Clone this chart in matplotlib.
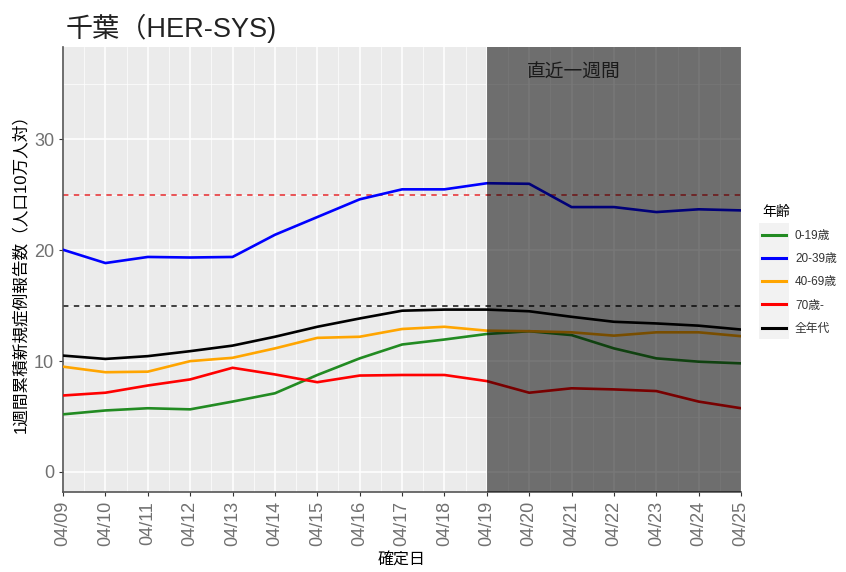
import numpy as np
import matplotlib.pyplot as plt
from matplotlib.ticker import MultipleLocator
from matplotlib.patches import Rectangle

plt.rcParams['font.family'] = ['Liberation Sans', 'Noto Sans CJK JP']

# 日付ラベル
dates = ['04/09', '04/10', '04/11', '04/12', '04/13', '04/14', '04/15', '04/16', '04/17',
         '04/18', '04/19', '04/20', '04/21', '04/22', '04/23', '04/24', '04/25']

age_0_19 = [5.2, 5.55, 5.75, 5.65, 6.35, 7.1, 8.75, 10.25, 11.5, 11.95, 12.45,
            12.7, 12.35, 11.15, 10.25, 9.95, 9.8]
age_20_39 = [20.05, 18.85, 19.4, 19.35, 19.4, 21.4, 23.0, 24.6, 25.5, 25.5, 26.05,
             26.0, 23.9, 23.9, 23.45, 23.7, 23.6]
age_40_69 = [9.5, 9.0, 9.05, 10.0, 10.3, 11.15, 12.1, 12.2, 12.9, 13.1, 12.75,
             12.7, 12.6, 12.3, 12.6, 12.6, 12.25]
age_70 = [6.9, 7.15, 7.8, 8.35, 9.4, 8.8, 8.1, 8.7, 8.75, 8.75, 8.2,
          7.15, 7.55, 7.45, 7.3, 6.35, 5.75]
age_all = [10.5, 10.2, 10.45, 10.9, 11.4, 12.2, 13.1, 13.85, 14.55, 14.65, 14.65,
           14.5, 14.0, 13.55, 13.4, 13.2, 12.85]

series = [
    ('0-19歳', age_0_19, '#228B22'),
    ('20-39歳', age_20_39, '#0000FF'),
    ('40-69歳', age_40_69, '#FFA500'),
    ('70歳-', age_70, '#FF0000'),
    ('全年代', age_all, '#000000'),
]

x = np.arange(len(dates))

fig = plt.figure(figsize=(8.46, 5.72), dpi=100)
ax = fig.add_axes([0.0745, 0.14, 0.8015, 0.777])
ax.set_facecolor('#EBEBEB')

# 目安ライン
ax.axhline(25, color='#E8474A', linestyle=(0, (3, 3)), linewidth=1.3, zorder=2)
ax.axhline(15, color='#333333', linestyle=(0, (3, 3)), linewidth=1.3, zorder=2)

for name, vals, col in series:
    ax.plot(x, vals, color=col, linewidth=1.9, label=name, zorder=3)

# 直近一週間
ax.axvspan(10, 16, color='black', alpha=0.53, linewidth=0, zorder=4)
ax.text(12.05, 36.0, '直近一週間', fontsize=13.5, color='#1A1A1A', ha='center', va='center', zorder=5)

ax.set_xlim(0, 16)
ax.set_ylim(-1.8, 38.3)
ax.set_xticks(x)
ax.set_xticklabels(dates, rotation=90, fontsize=13, color='#707070')
ax.xaxis.set_minor_locator(MultipleLocator(0.5))
ax.yaxis.set_major_locator(MultipleLocator(10))
ax.yaxis.set_minor_locator(MultipleLocator(5))
ax.tick_params(axis='y', labelsize=13, labelcolor='#707070')
ax.tick_params(which='major', color='#333333', length=3)
ax.tick_params(which='minor', length=0)

ax.grid(which='major', color='white', linewidth=1.1, zorder=0)
ax.grid(which='minor', color='white', linewidth=0.5, zorder=0)
ax.set_axisbelow(True)

for s in ['top', 'right']:
    ax.spines[s].set_visible(False)
for s in ['left', 'bottom']:
    ax.spines[s].set_color('#555555')
    ax.spines[s].set_linewidth(1.2)

ax.set_xlabel('確定日', fontsize=11.5, labelpad=4)
ax.set_ylabel('1週間累積新規症例報告数（人口10万人対）', fontsize=12, labelpad=4)
fig.text(0.077, 0.95, '千葉（HER-SYS)', fontsize=19.5, ha='left', va='center', color='#222222')

leg = ax.legend(loc='upper left', bbox_to_anchor=(1.015, 0.67), frameon=False,
                title='年齢', fontsize=8.5, title_fontsize=10, handlelength=2.0,
                labelspacing=0.95, alignment='left', labelcolor='#333333')
for line in leg.get_lines():
    line.set_linewidth(2.2)

# 凡例キーの背景
fig.canvas.draw()
inv = fig.transFigure.inverted()
bbs = [h.get_window_extent() for h in leg.get_lines()]
x0 = min(b.x0 for b in bbs) - 3
x1 = max(b.x1 for b in bbs) + 3
ys = [(b.y0 + b.y1) / 2 for b in bbs]
step = (ys[0] - ys[-1]) / (len(ys) - 1)
y0 = ys[-1] - step / 2
y1 = ys[0] + step / 2
(fx0, fy0) = inv.transform((x0, y0))
(fx1, fy1) = inv.transform((x1, y1))
fig.patches.append(Rectangle((fx0, fy0), fx1 - fx0, fy1 - fy0, transform=fig.transFigure,
                             facecolor='#F2F2F2', edgecolor='none', zorder=-1))

fig.savefig('out.png', dpi=100)
